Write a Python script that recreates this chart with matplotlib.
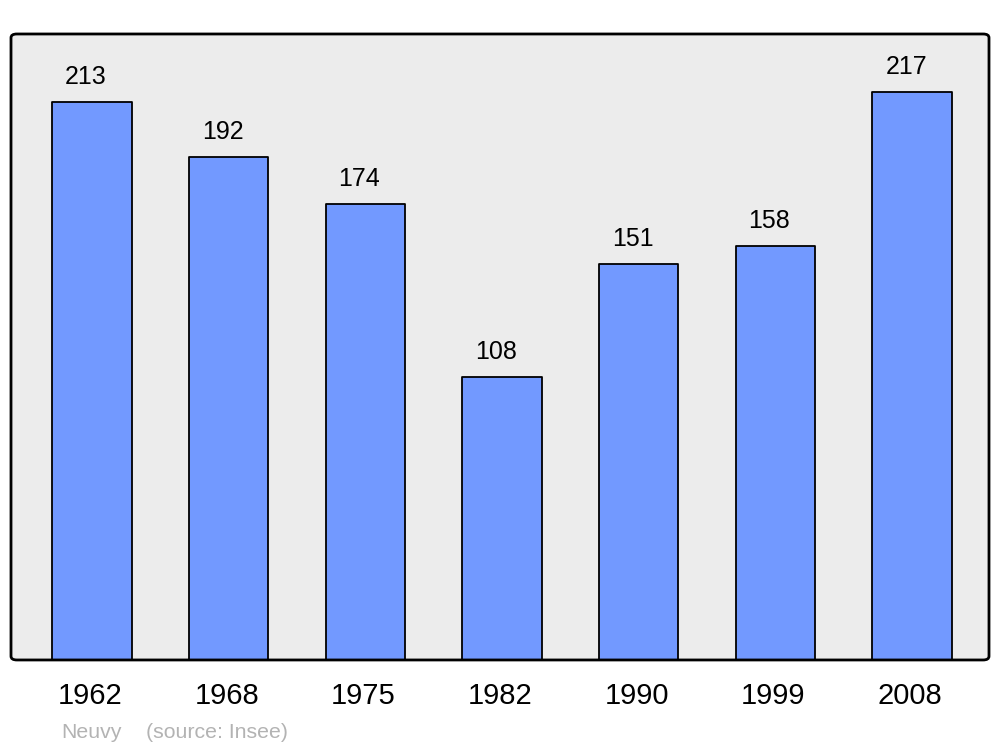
import matplotlib
matplotlib.use("Agg")
import matplotlib.pyplot as plt
import matplotlib.transforms as mtransforms
from matplotlib.patches import FancyBboxPatch

years = ["1962", "1968", "1975", "1982", "1990", "1999", "2008"]
population = [213, 192, 174, 108, 151, 158, 217]
town = "Neuvy"
source = "(source: Insee)"

plt.rcParams['font.family'] = ['Liberation Sans', 'DejaVu Sans']

fig = plt.figure(figsize=(10, 7.47), dpi=100)
ax = fig.add_axes([0.011, 0.1165, 0.978, 0.838])
ax.set_facecolor('#ececec')

x = list(range(len(years)))
bars = ax.bar(x, population, width=0.58, color='#7299ff', edgecolor='black',
              linewidth=1.3, zorder=2)
for b in bars:
    b.set_joinstyle('round')
for xi, v in zip(x, population):
    ax.annotate(str(v), (xi, v), xytext=(-4.3, 13), textcoords='offset points',
                ha='center', va='baseline', fontsize=18, color='black')

ax.set_xlim(-0.593, 6.563)
ax.set_ylim(0, 239)
ax.set_xticks(x)
ax.set_xticklabels(years, fontsize=21)
ax.tick_params(axis='x', length=0, pad=16)
offset = mtransforms.ScaledTranslation(-2 / 100, 0, fig.dpi_scale_trans)
for lab in ax.get_xticklabels():
    lab.set_transform(lab.get_transform() + offset)
ax.set_yticks([])
for s in ax.spines.values():
    s.set_visible(False)

frame = FancyBboxPatch((0, 0), 1, 1, boxstyle='round,pad=0,rounding_size=0.006',
                       transform=ax.transAxes, facecolor='none', edgecolor='black',
                       linewidth=2.0, clip_on=False, zorder=5)
ax.add_patch(frame)

fig.text(0.061, 1 - 738 / 747, town, fontsize=15.3, color='#b3b3b3', va='baseline')
fig.text(0.146, 1 - 738 / 747, source, fontsize=15.3, color='#b3b3b3', va='baseline')

fig.savefig('out.png', dpi=100)
